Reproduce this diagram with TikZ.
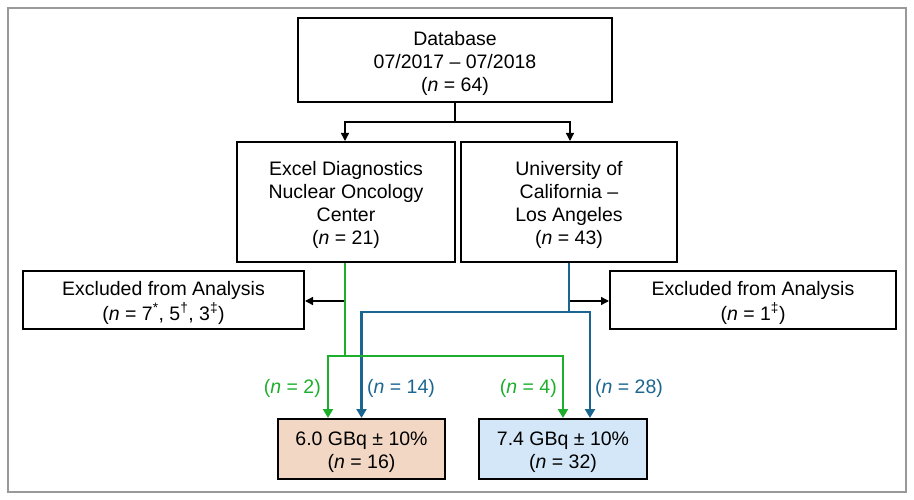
\documentclass[tikz,border=0pt]{standalone}
\usepackage{fontspec}
\setmainfont{Liberation Sans}
\usetikzlibrary{arrows.meta}
\definecolor{grn}{HTML}{1DAF2B}
\definecolor{blu}{HTML}{1B6690}
\definecolor{peach}{HTML}{F2D8C4}
\definecolor{skyb}{HTML}{D3E7F8}
\newcommand\lowtext[1]{\raisebox{-3.5pt}[\height][\depth]{\begin{tabular}{@{}c@{}}#1\end{tabular}}}
\tikzset{
  box/.style={draw=black, line width=2pt, align=center, inner sep=0pt, font=\fontsize{19.5}{23}\selectfont},
  conn/.style={line width=1.4pt, -{Triangle[length=8pt,width=8pt]}},
  plain/.style={line width=1.4pt},
  gline/.style={draw=grn, line width=2.6pt},
  garrow/.style={gline, -{Triangle[length=9pt,width=10pt]}},
  bline/.style={draw=blu, line width=2.6pt},
  barrow/.style={bline, -{Triangle[length=9pt,width=10pt]}},
  lbl/.style={font=\fontsize{19.5}{23}\selectfont, inner sep=0pt}
}
\begin{document}
\begin{tikzpicture}[x=1pt,y=-1pt]
\useasboundingbox (0,0) rectangle (914,500);
\draw[draw=gray!80, line width=1.5pt] (8,8) rectangle (906,492);

\node[box, minimum width=314pt, minimum height=84pt] (db) at (455,60) {\lowtext{Database\\07/2017 – 07/2018\\(\textit{n} = 64)}};
\node[box, minimum width=218pt, minimum height=120pt] (ex) at (346,202) {\lowtext{Excel Diagnostics\\Nuclear Oncology\\Center\\(\textit{n} = 21)}};
\node[box, minimum width=216pt, minimum height=120pt] (uc) at (569,202) {\lowtext{University of\\California –\\Los Angeles\\(\textit{n} = 43)}};
\node[box, minimum width=281pt, minimum height=58pt] (exl) at (163.5,300) {\lowtext{Excluded from Analysis\\(\textit{n} = 7\textsuperscript{*}, 5\textsuperscript{†}, 3\textsuperscript{‡})}};
\node[box, minimum width=286pt, minimum height=58pt] (exr) at (753,300) {\lowtext{Excluded from Analysis\\(\textit{n} = 1\textsuperscript{‡})}};
\node[box, fill=peach, minimum width=167pt, minimum height=60pt] (b6) at (361.5,449) {\lowtext{6.0 GBq ± 10\%\\(\textit{n} = 16)}};
\node[box, fill=skyb, minimum width=168pt, minimum height=60pt] (b7) at (563,449) {\lowtext{7.4 GBq ± 10\%\\(\textit{n} = 32)}};

% database split
\coordinate (j1) at (455,122);
\draw[plain] (db.south) -- (j1);
\draw[conn] (j1) -| ([xshift=-1pt]ex.north);
\draw[conn] (j1) -| ([xshift=1pt]uc.north);

% exclusions
\coordinate (gx) at (345,301);
\coordinate (bx) at (569,301);
\draw[conn] (gx) -- (exl.east |- gx);
\draw[conn] (bx) -- (exr.west |- bx);

% blue paths
\coordinate (b1) at (569,312);
\draw[bline] (uc.south) -- (b1);
\draw[barrow] (b1) -| (b6.north);
\draw[barrow] (b1) -| ([xshift=27pt]b7.north);

% green paths
\coordinate (g1) at (345,356);
\draw[gline] ([xshift=-1pt]ex.south) -- (g1);
\draw[garrow] (g1) -| ([xshift=-33.5pt]b6.north);
\draw[garrow] (g1) -| (b7.north);

% labels
\node[lbl, text=grn, anchor=east] (l1) at (321,388) {(\textit{n} = 2)};
\node[lbl, text=blu, anchor=west] (l2) at (367,388) {(\textit{n} = 14)};
\node[lbl, text=grn, anchor=east] (l3) at (557,388) {(\textit{n} = 4)};
\node[lbl, text=blu, anchor=west] (l4) at (595,388) {(\textit{n} = 28)};
\end{tikzpicture}
\end{document}
